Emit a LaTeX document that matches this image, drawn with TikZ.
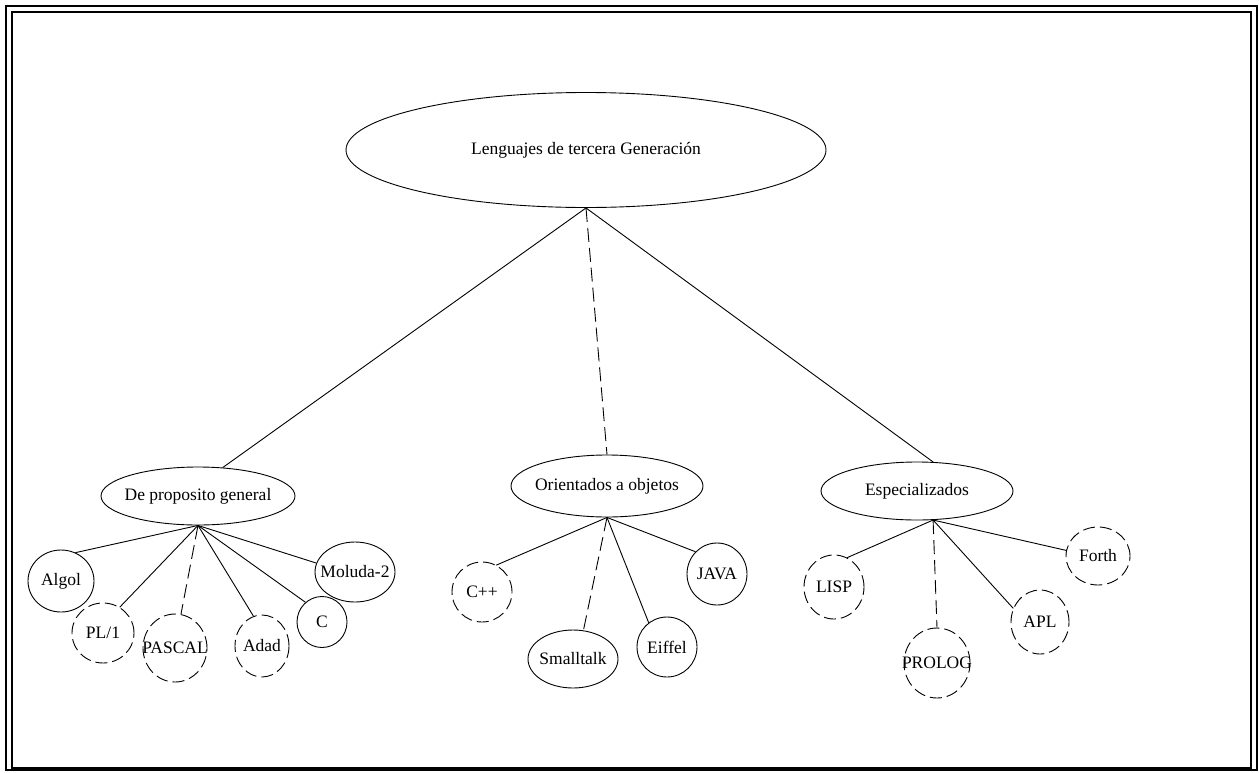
\documentclass[tikz,border=0pt]{standalone}
\usepackage{fontspec}
\setmainfont{Liberation Serif}
\usetikzlibrary{shapes.geometric}
\newcommand*{\etq}[1]{\makebox[0pt]{#1}}

\begin{document}
\begin{tikzpicture}[x=1pt,y=-1pt,
  every node/.style={font=\fontsize{17.5}{21}\selectfont},
  burbuja/.style={draw,ellipse,line width=0.9pt,inner sep=0pt},
  rota/.style={burbuja,dash pattern=on 12pt off 5pt},
  rama/.style={line width=0.9pt},
  ramarota/.style={rama,dash pattern=on 14pt off 6pt}]
\useasboundingbox (0,0) rectangle (1259,772);
% Double frame round the page
\draw[line width=2pt] (6,6) rectangle (1257,770);
\draw[line width=1.4pt] (12,12) rectangle (1251,768);
% Root of the tree
\node[burbuja,minimum width=480pt,minimum height=115pt] (root) at (586,150)
  {\etq{Lenguajes de tercera Generación}};
% Three families
\node[burbuja,minimum width=194pt,minimum height=58pt] (gen) at (198,496) {\etq{De proposito general}};
\node[burbuja,minimum width=192pt,minimum height=62pt] (obj) at (607,486) {\etq{Orientados a objetos}};
\node[burbuja,minimum width=192pt,minimum height=58pt] (esp) at (917,491) {\etq{Especializados}};
\draw[rama] (root.south) -- (gen.49);
\draw[ramarota] (root.south) -- (obj.north);
\draw[rama] (root.south) -- (esp.61);
% General purpose languages
\node[burbuja,minimum width=66pt,minimum height=62pt] (algol) at (61,581) {\etq{Algol}};
\node[rota,minimum width=62pt,minimum height=60pt] (pli) at (103,633) {\etq{PL/1}};
\node[rota,minimum width=64pt,minimum height=68pt] (pascal) at (175,648) {\etq{PASCAL}};
\node[rota,minimum width=54pt,minimum height=62pt] (adad) at (262,646) {\etq{Adad}};
\node[burbuja,minimum width=50pt,minimum height=51pt] (clang) at (322,622) {\etq{C}};
\node[burbuja,minimum width=80pt,minimum height=60pt] (moluda) at (355,572) {\etq{Moluda-2}};
\draw[rama] (gen.south) -- (algol.63);
\draw[rama] (gen.south) -- (pli.57);
\draw[ramarota] (gen.south) -- (pascal.80);
\draw[rama] (gen.south) -- (adad.106);
\draw[rama] (gen.south) -- (clang.130);
\draw[rama] (gen.south) -- (moluda.167);
% Object oriented languages
\node[rota,minimum width=60pt,minimum height=60pt] (cpp) at (482,592) {\etq{C++}};
\node[burbuja,minimum width=90pt,minimum height=58pt] (small) at (573,659) {\etq{Smalltalk}};
\node[burbuja,minimum width=60pt,minimum height=60pt] (eiffel) at (667,647) {\etq{Eiffel}};
\node[burbuja,minimum width=60pt,minimum height=62pt] (java) at (717,574) {\etq{JAVA}};
\draw[rama] (obj.south) -- (cpp.62);
\draw[ramarota] (obj.south) -- (small.70);
\draw[rama] (obj.south) -- (eiffel.127);
\draw[rama] (obj.south) -- (java.134);
% Specialised languages
\node[rota,minimum width=60pt,minimum height=64pt] (lisp) at (834,587) {\etq{LISP}};
\node[rota,minimum width=66pt,minimum height=70pt] (prolog) at (937,663) {\etq{PROLOG}};
\node[rota,minimum width=58pt,minimum height=64pt] (apl) at (1040,622) {\etq{APL}};
\node[rota,minimum width=64pt,minimum height=58pt] (forth) at (1098,556) {\etq{Forth}};
\draw[rama] (esp.-61) -- (lisp.66);
\draw[ramarota] (esp.-61) -- (prolog.north);
\draw[rama] (esp.-61) -- (apl.153);
\draw[rama] (esp.-61) -- (forth.170);
\end{tikzpicture}
\end{document}
